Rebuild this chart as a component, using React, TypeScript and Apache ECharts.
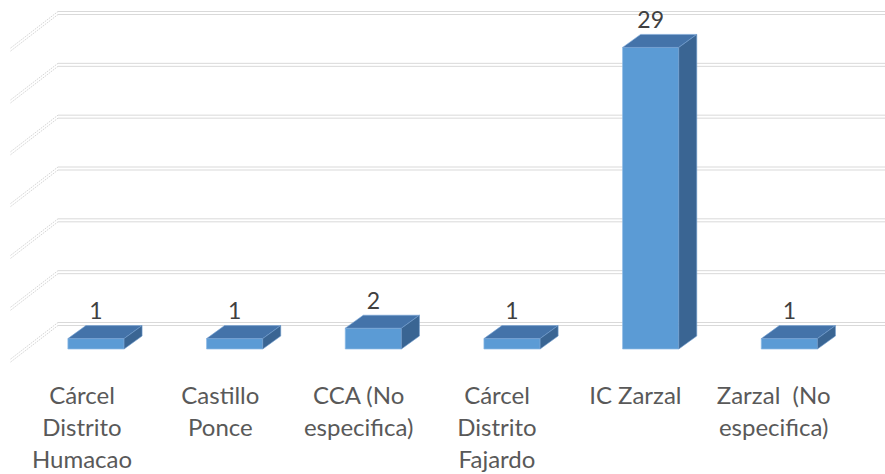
import React, { useEffect, useRef } from "react";
import * as echarts from "echarts";

const categories = [
  "Cárcel\nDistrito\nHumacao",
  "Castillo\nPonce",
  "CCA (No\nespecifica)",
  "Cárcel\nDistrito\nFajardo",
  "IC Zarzal",
  "Zarzal  (No\nespecifica)",
];
const values = [1, 1, 2, 1, 29, 1];
const tickValues = [0, 5, 10, 15, 20, 25, 30];

const FONT = "Lato, 'Open Sans', sans-serif";
const DEPTH_X = 18;
const DEPTH_Y = -13;
const WALL_X = -48;
const WALL_Y = 37;
const GRID_COLOR = "#d9d9d9";

export default function App() {
  const ref = useRef<HTMLDivElement>(null);

  useEffect(() => {
    if (!ref.current) return;
    const chart = echarts.init(ref.current, null, { renderer: "svg" });

    const gridRender = (params: any, api: any) => {
      const v = api.value(1);
      const p0 = api.coord([0, v]);
      const p1 = api.coord([1, v]);
      const ls = { stroke: GRID_COLOR, lineWidth: 1 };
      const ds = { stroke: "#d6d6d6", lineWidth: 1, lineDash: [1.5, 1] };
      return {
        type: "group",
        children: [
          { type: "line", shape: { x1: p0[0], y1: p0[1], x2: p1[0], y2: p1[1] }, style: ls },
          { type: "line", shape: { x1: p0[0], y1: p0[1] + 3, x2: p1[0], y2: p1[1] + 3 }, style: ls },
          { type: "line", shape: { x1: p0[0], y1: p0[1], x2: p0[0] + WALL_X, y2: p0[1] + WALL_Y }, style: ds },
          { type: "line", shape: { x1: p0[0], y1: p0[1] + 3, x2: p0[0] + WALL_X, y2: p0[1] + 3 + WALL_Y }, style: ds },
        ],
      };
    };

    const barRender = (params: any, api: any) => {
      const i = api.value(0);
      const v = api.value(1);
      const base = api.coord([i, 0]);
      const top = api.coord([i, v]);
      const w = api.size([1, 0])[0] * 0.405;
      const xl = base[0] - w / 2;
      const xr = xl + w;
      const yb = base[1];
      const yt = top[1];
      return {
        type: "group",
        children: [
          {
            type: "rect",
            shape: { x: xl, y: yt, width: w, height: yb - yt },
            style: { fill: "#5b9bd5", stroke: "rgba(140,185,230,0.7)", lineWidth: 1 },
          },
          {
            type: "polygon",
            shape: { points: [[xl, yt], [xr, yt], [xr + DEPTH_X, yt + DEPTH_Y], [xl + DEPTH_X, yt + DEPTH_Y]] },
            style: { fill: "#4473a9", stroke: "rgba(120,165,215,0.6)", lineWidth: 1 },
          },
          {
            type: "polygon",
            shape: { points: [[xr, yt], [xr + DEPTH_X, yt + DEPTH_Y], [xr + DEPTH_X, yb + DEPTH_Y], [xr, yb]] },
            style: { fill: "#3a6593", stroke: "rgba(110,155,205,0.6)", lineWidth: 1 },
          },
          {
            type: "text",
            style: {
              x: base[0],
              y: yt + DEPTH_Y - 4,
              text: String(v),
              align: "center",
              verticalAlign: "bottom",
              fontSize: 23,
              lineHeight: 23,
              fontFamily: FONT,
              fill: "#404040",
            },
          },
        ],
      };
    };

    chart.setOption({
      animation: false,
      backgroundColor: "#ffffff",
      grid: [
        { left: 58, right: 0, top: 11.5, height: 311 },
        { left: 26.65, right: 26.3, top: 37, height: 312 },
        { left: 12.85, right: 42.15, top: 37, bottom: 114 },
      ],
      xAxis: [
        { gridIndex: 0, type: "value", min: 0, max: 1, show: false },
        { gridIndex: 1, type: "category", data: categories, show: false },
        {
          gridIndex: 2,
          type: "category",
          data: categories,
          axisLine: { show: false },
          axisTick: { show: false },
          splitLine: { show: false },
          axisLabel: {
            interval: 0,
            margin: 19,
            fontSize: 24,
            lineHeight: 32,
            color: "#595959",
            fontFamily: FONT,
          },
        },
      ],
      yAxis: [
        { gridIndex: 0, type: "value", min: 0, max: 30, interval: 5, show: false },
        { gridIndex: 1, type: "value", min: 0, max: 30, interval: 5, show: false },
        { gridIndex: 2, type: "value", min: 0, max: 30, interval: 5, show: false },
      ],
      series: [
        {
          type: "custom",
          xAxisIndex: 0,
          yAxisIndex: 0,
          data: tickValues.map((v) => [0, v]),
          renderItem: gridRender,
          silent: true,
          z: 1,
        },
        {
          type: "custom",
          xAxisIndex: 1,
          yAxisIndex: 1,
          data: values.map((v, i) => [i, v]),
          renderItem: barRender,
          z: 2,
        },
      ],
    });

    return () => chart.dispose();
  }, []);

  return (
    <div
      ref={ref}
      style={{ position: "fixed", left: 0, top: 0, width: 885, height: 474, background: "#fff" }}
    />
  );
}
